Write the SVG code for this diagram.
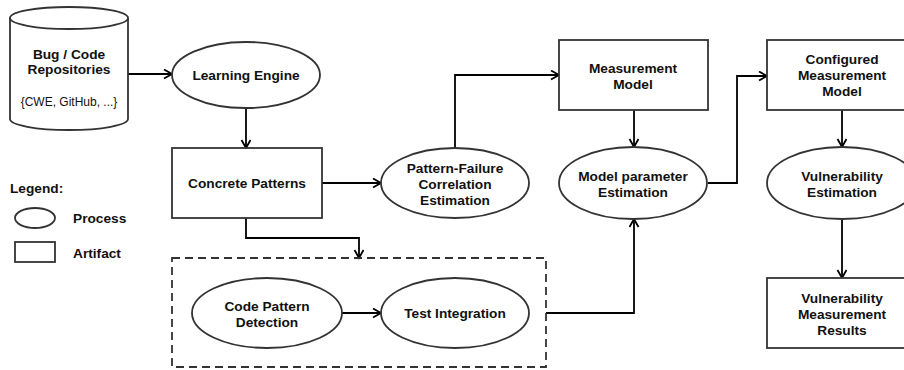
<svg xmlns="http://www.w3.org/2000/svg" width="904" height="370" viewBox="0 0 904 370">
  <style>
    .shape { fill: #ffffff; stroke: #333333; stroke-width: 1.8; }
    .group { fill: none; stroke: #333333; stroke-width: 1.8; stroke-dasharray: 8 5; }
    .link { fill: none; stroke: #000000; stroke-width: 1.8; marker-end: url(#arrow); }
    text { font-family: "Liberation Sans", Arial, sans-serif; font-size: 13.7px; font-weight: bold; fill: #111111; text-anchor: middle; }
    text.small { font-size: 12px; font-weight: normal; }
    text.left { text-anchor: start; }
  </style>
  <defs>
    <marker id="arrow" markerWidth="12" markerHeight="12" refX="9" refY="5" orient="auto" markerUnits="userSpaceOnUse">
      <path d="M1,0.5 L9,5 L1,9.5" fill="none" stroke="#000000" stroke-width="1.8"/>
    </marker>
  </defs>

  <rect width="904" height="370" fill="#ffffff"/>

  <!-- legend -->
  <g id="legend">
    <text class="left" x="10" y="193">Legend:</text>
    <ellipse class="shape" cx="35" cy="218" rx="20" ry="10"/>
    <text class="left" x="73" y="223">Process</text>
    <rect class="shape" x="15" y="242" width="40" height="20"/>
    <text class="left" x="73" y="258">Artifact</text>
  </g>

  <!-- connectors -->
  <g id="connectors">
    <path class="link" d="M128,74 H172"/>
    <path class="link" d="M246,108 V148"/>
    <path class="link" d="M322,183 H381"/>
    <path class="link" d="M246,218 V238 H359 V258"/>
    <path class="link" d="M455,148 V75 H559"/>
    <path class="link" d="M342,313 H381"/>
    <path class="link" d="M546,313 H634 V219"/>
    <path class="link" d="M634,110 V147"/>
    <path class="link" d="M708,183 H737 V76 H767"/>
    <path class="link" d="M842,110 V147"/>
    <path class="link" d="M842,219 V278"/>
  </g>

  <g id="repositories">
    <path class="shape" d="M10,18 A59,11 0 0,1 128,18 V119 A59,11 0 0,1 10,119 Z"/>
    <path class="shape" d="M10,18 A59,11 0 0,0 128,18" fill="none"/>
    <text x="69" y="59">Bug / Code</text>
    <text x="69" y="74">Repositories</text>
    <text class="small" x="69" y="106">{CWE, GitHub, ...}</text>
  </g>

  <g id="learning-engine">
    <ellipse class="shape" cx="246" cy="75" rx="74" ry="33"/>
    <text x="246" y="80">Learning Engine</text>
  </g>

  <g id="concrete-patterns">
    <rect class="shape" x="172" y="148" width="150" height="70"/>
    <text x="247" y="188">Concrete Patterns</text>
  </g>

  <g id="pattern-failure">
    <ellipse class="shape" cx="455" cy="183" rx="74" ry="35"/>
    <text x="455" y="173">Pattern-Failure</text>
    <text x="455" y="189">Correlation</text>
    <text x="455" y="205">Estimation</text>
  </g>

  <g id="detection-group">
    <rect class="group" x="172" y="258" width="374" height="109"/>
  </g>

  <g id="code-pattern-detection">
    <ellipse class="shape" cx="267" cy="313" rx="75" ry="35"/>
    <text x="267" y="311">Code Pattern</text>
    <text x="267" y="327">Detection</text>
  </g>

  <g id="test-integration">
    <ellipse class="shape" cx="455" cy="313" rx="74" ry="35"/>
    <text x="455" y="318">Test Integration</text>
  </g>

  <g id="measurement-model">
    <rect class="shape" x="559" y="40" width="149" height="70"/>
    <text x="633" y="73">Measurement</text>
    <text x="633" y="89">Model</text>
  </g>

  <g id="model-parameter-estimation">
    <ellipse class="shape" cx="633" cy="183" rx="74" ry="36"/>
    <text x="633" y="181">Model parameter</text>
    <text x="633" y="197">Estimation</text>
  </g>

  <g id="configured-measurement-model">
    <rect class="shape" x="767" y="40" width="150" height="70"/>
    <text x="842" y="64">Configured</text>
    <text x="842" y="80">Measurement</text>
    <text x="842" y="96">Model</text>
  </g>

  <g id="vulnerability-estimation">
    <ellipse class="shape" cx="842" cy="183" rx="75" ry="36"/>
    <text x="842" y="181">Vulnerability</text>
    <text x="842" y="197">Estimation</text>
  </g>

  <g id="vulnerability-results">
    <rect class="shape" x="767" y="278" width="150" height="70"/>
    <text x="842" y="303">Vulnerability</text>
    <text x="842" y="319">Measurement</text>
    <text x="842" y="335">Results</text>
  </g>
</svg>
